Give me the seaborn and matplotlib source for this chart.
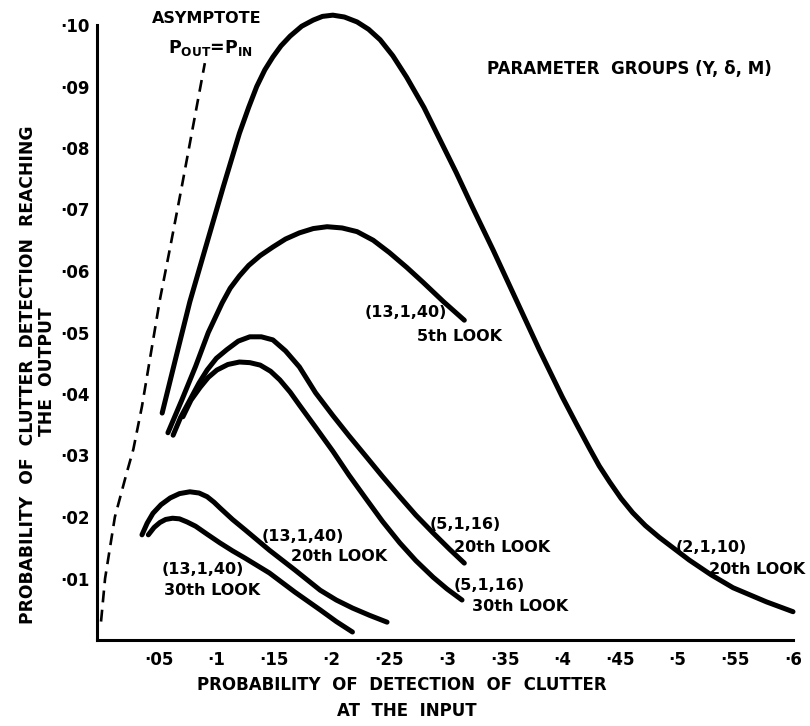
import numpy as np
import pandas as pd
import matplotlib
matplotlib.use("Agg")
import matplotlib.pyplot as plt
import seaborn as sns

sns.set_style("white")
plt.rcParams["font.family"] = ["DejaVu Sans"]
plt.rcParams["font.weight"] = "bold"

# ---- data ----
big_x = [0.053, 0.065, 0.077, 0.090, 0.106, 0.120, 0.128, 0.135, 0.142, 0.149, 0.156, 0.164,
         0.174, 0.184, 0.192, 0.201, 0.211, 0.222, 0.232, 0.242, 0.253, 0.265, 0.280, 0.294,
         0.308, 0.322, 0.340, 0.360, 0.380, 0.400, 0.412, 0.424, 0.432, 0.441, 0.451, 0.461,
         0.472, 0.484, 0.510, 0.529, 0.548, 0.577, 0.600]
big_y = [0.0369, 0.0460, 0.0550, 0.0634, 0.0737, 0.0824, 0.0866, 0.0900, 0.0927, 0.0948, 0.0966, 0.0982,
         0.0998, 0.1008, 0.1014, 0.1016, 0.1013, 0.1005, 0.0993, 0.0976, 0.0950, 0.0915, 0.0866, 0.0813,
         0.0760, 0.0704, 0.0634, 0.0553, 0.0472, 0.0395, 0.0352, 0.0310, 0.0283, 0.0257, 0.0230, 0.0207,
         0.0186, 0.0167, 0.0130, 0.0106, 0.0085, 0.0062, 0.0046]

c5_x = [0.058, 0.070, 0.082, 0.093, 0.105, 0.112, 0.120, 0.128, 0.138, 0.149, 0.160, 0.172,
        0.184, 0.196, 0.209, 0.222, 0.236, 0.250, 0.265, 0.279, 0.297, 0.315]
c5_y = [0.0337, 0.0390, 0.0445, 0.0500, 0.0548, 0.0572, 0.0592, 0.0609, 0.0625, 0.0639, 0.0652, 0.0662,
        0.0669, 0.0672, 0.0670, 0.0664, 0.0650, 0.0630, 0.0606, 0.0582, 0.0550, 0.0520]

m20_x = [0.0625, 0.069, 0.077, 0.085, 0.092, 0.100, 0.109, 0.119, 0.129, 0.139, 0.149, 0.160,
         0.172, 0.186, 0.201, 0.215, 0.230, 0.244, 0.259, 0.273, 0.288, 0.302, 0.315]
m20_y = [0.0333, 0.0362, 0.0390, 0.0418, 0.0439, 0.0458, 0.0472, 0.0486, 0.0493, 0.0493, 0.0488, 0.0470,
         0.0444, 0.0402, 0.0365, 0.0332, 0.0298, 0.0266, 0.0233, 0.0203, 0.0174, 0.0148, 0.0125]

m30_x = [0.071, 0.078, 0.086, 0.093, 0.1005, 0.110, 0.120, 0.129, 0.138, 0.147, 0.155, 0.164,
         0.172, 0.186, 0.201, 0.215, 0.230, 0.244, 0.259, 0.273, 0.288, 0.300, 0.313]
m30_y = [0.0363, 0.0390, 0.0411, 0.0427, 0.0439, 0.0448, 0.0452, 0.0451, 0.0447, 0.0437, 0.0423, 0.0403,
         0.0382, 0.0346, 0.0307, 0.0268, 0.0229, 0.0193, 0.0158, 0.0129, 0.0102, 0.0083, 0.0065]

s20_x = [0.0355, 0.040, 0.045, 0.052, 0.060, 0.068, 0.077, 0.085, 0.092, 0.098, 0.103, 0.114,
         0.125, 0.146, 0.168, 0.190, 0.204, 0.218, 0.233, 0.248]
s20_y = [0.0171, 0.0190, 0.0206, 0.0220, 0.0231, 0.0238, 0.0241, 0.0239, 0.0233, 0.0224, 0.0215, 0.0196,
         0.0179, 0.0146, 0.0114, 0.0081, 0.0065, 0.0052, 0.0040, 0.0029]

s30_x = [0.041, 0.046, 0.051, 0.056, 0.062, 0.068, 0.0745, 0.082, 0.092, 0.103, 0.114, 0.125,
         0.146, 0.168, 0.190, 0.204, 0.218]
s30_y = [0.0171, 0.0183, 0.0191, 0.0196, 0.0198, 0.0197, 0.0192, 0.0185, 0.0172, 0.0158, 0.0145, 0.0133,
         0.0109, 0.0078, 0.0049, 0.0030, 0.0013]

asym_x = [0.0, 0.0035, 0.012, 0.022, 0.028, 0.0355, 0.051, 0.060, 0.070, 0.090]
asym_y = [0.003, 0.010, 0.020, 0.027, 0.031, 0.038, 0.0553, 0.0639, 0.0737, 0.0938]

x_ticks = [0.05, 0.10, 0.15, 0.20, 0.25, 0.30, 0.35, 0.40, 0.45, 0.50, 0.55, 0.60]
x_labels = ["·05", "·1", "·15", "·2", "·25", "·3", "·35", "·4", "·45", "·5", "·55", "·6"]
y_ticks = [0.01, 0.02, 0.03, 0.04, 0.05, 0.06, 0.07, 0.08, 0.09, 0.10]
y_labels = ["·01", "·02", "·03", "·04", "·05", "·06", "·07", "·08", "·09", "·10"]

curves = {
    "(2,1,10) 20th": (big_x, big_y),
    "(13,1,40) 5th": (c5_x, c5_y),
    "(5,1,16) 20th": (m20_x, m20_y),
    "(5,1,16) 30th": (m30_x, m30_y),
    "(13,1,40) 20th": (s20_x, s20_y),
    "(13,1,40) 30th": (s30_x, s30_y),
}
df = pd.concat(
    [pd.DataFrame({"pin": xs, "pout": ys, "curve": name}) for name, (xs, ys) in curves.items()],
    ignore_index=True,
)
df_asym = pd.DataFrame({"pin": asym_x, "pout": asym_y})

W, H = 810, 726
fig = plt.figure(figsize=(W / 100, H / 100), dpi=100)
ax = fig.add_axes([97 / W, 86 / H, 696 / W, 615 / H])

sns.lineplot(data=df, x="pin", y="pout", units="curve", estimator=None, sort=False,
             color="black", linewidth=3.6, ax=ax, legend=False,
             solid_capstyle="round", solid_joinstyle="round", clip_on=False)
sns.lineplot(data=df_asym, x="pin", y="pout", estimator=None, sort=False,
             color="black", linewidth=1.9, linestyle=(0, (4.5, 2.8)), ax=ax,
             legend=False, clip_on=False)

ax.set_xlim(-0.0035, 0.60)
ax.set_ylim(0, 0.10)
ax.set_xticks(x_ticks)
ax.set_xticklabels(x_labels)
ax.set_yticks(y_ticks)
ax.set_yticklabels(y_labels)
ax.tick_params(axis="both", direction="in", length=11, width=2, labelsize=12, colors="black")
ax.tick_params(axis="x", pad=8)
ax.tick_params(axis="y", pad=5)
for lab in ax.get_xticklabels() + ax.get_yticklabels():
    lab.set_fontweight("bold")
for s in ["top", "right"]:
    ax.spines[s].set_visible(False)
for s in ["left", "bottom"]:
    ax.spines[s].set_linewidth(2.2)
    ax.spines[s].set_color("black")
ax.set_xlabel("")
ax.set_ylabel("")

tkw = dict(ha="center", va="center", fontweight="bold", color="black")
LS = 11.5
ax.text(0.092, 0.1010, "ASYMPTOTE", fontsize=11.5, **tkw)
ax.text(0.0953, 0.0962, r"P$_{\mathregular{OUT}}$=P$_{\mathregular{IN}}$", fontsize=12.5, **tkw)
ax.text(0.458, 0.0928, "PARAMETER  GROUPS (Y, δ, M)", fontsize=12, **tkw)

ax.text(0.264, 0.0532, "(13,1,40)", fontsize=LS, **tkw)
ax.text(0.311, 0.0493, "5th LOOK", fontsize=LS, **tkw)
ax.text(0.316, 0.0187, "(5,1,16)", fontsize=LS, **tkw)
ax.text(0.348, 0.0150, "20th LOOK", fontsize=LS, **tkw)
ax.text(0.337, 0.0089, "(5,1,16)", fontsize=LS, **tkw)
ax.text(0.363, 0.0055, "30th LOOK", fontsize=LS, **tkw)
ax.text(0.529, 0.0150, "(2,1,10)", fontsize=LS, **tkw)
ax.text(0.569, 0.0115, "20th LOOK", fontsize=LS, **tkw)
ax.text(0.175, 0.0169, "(13,1,40)", fontsize=LS, **tkw)
ax.text(0.206, 0.0135, "20th LOOK", fontsize=LS, **tkw)
ax.text(0.088, 0.0115, "(13,1,40)", fontsize=LS, **tkw)
ax.text(0.096, 0.0081, "30th LOOK", fontsize=LS, **tkw)

fig.text(402 / W, 1 - 685 / H, "PROBABILITY  OF  DETECTION  OF  CLUTTER", fontsize=12, **tkw)
fig.text(407 / W, 1 - 711 / H, "AT  THE  INPUT", fontsize=12, **tkw)
fig.text(28 / W, 1 - 375 / H, "PROBABILITY  OF  CLUTTER  DETECTION  REACHING",
         fontsize=12.3, rotation=90, **tkw)
fig.text(47 / W, 1 - 372 / H, "THE  OUTPUT", fontsize=12.3, rotation=90, **tkw)

fig.savefig("out.png", dpi=100, facecolor="white")
